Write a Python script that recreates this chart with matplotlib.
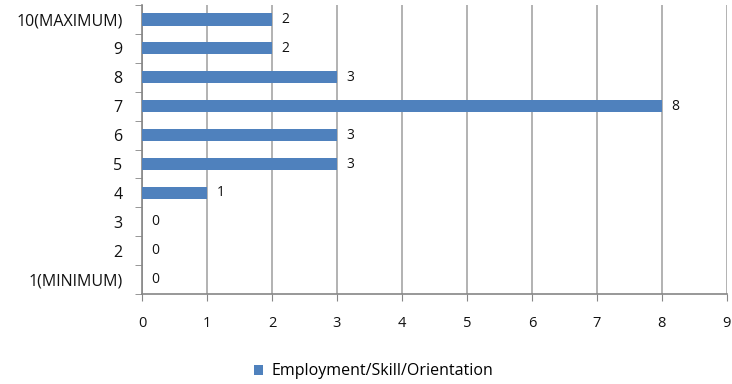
import matplotlib
matplotlib.use("Agg")
import matplotlib.pyplot as plt
import numpy as np

categories = ["1(MINIMUM)", "2", "3", "4", "5", "6", "7", "8", "9", "10(MAXIMUM)"]
values = [0, 0, 0, 1, 3, 3, 8, 3, 2, 2]
series_name = "Employment/Skill/Orientation"
x_ticks = list(range(0, 10))

plt.rcParams['font.family'] = ['Open Sans', 'DejaVu Sans']

fig = plt.figure(figsize=(7.32, 3.84), dpi=100)
ax = fig.add_axes([0.194, 0.234, 0.799, 0.753])

pos = np.arange(len(categories))
bars = ax.barh(pos, values, height=0.42, color="#4F81BD", label=series_name, zorder=3)

for p, v in zip(pos, values):
    ax.annotate(str(v), (v, p), xytext=(7, 0), textcoords="offset points",
                va="center", ha="left", fontsize=10, color="#111111")

ax.set_xlim(0, 9)
ax.set_ylim(-0.5, len(categories) - 0.5)
ax.set_xticks(x_ticks)
ax.set_xticklabels([str(t) for t in x_ticks], fontsize=10.5, color="#111111")
ax.set_yticks(pos)
ax.set_yticklabels(categories, fontsize=11.5, color="#111111")
ax.set_yticks(np.arange(-0.5, len(categories), 1), minor=True)
ax.tick_params(axis="y", which="major", length=0, pad=14)
ax.tick_params(axis="y", which="minor", length=5, color="#868686", direction="out")
ax.tick_params(axis="x", length=5, color="#868686", direction="out", pad=11)

ax.grid(axis="x", color="#A6A6A6", linewidth=1.2, zorder=0)
for s in ["top", "right"]:
    ax.spines[s].set_visible(False)
for s in ["left", "bottom"]:
    ax.spines[s].set_color("#868686")
    ax.spines[s].set_linewidth(1.2)

fig.legend(handles=[bars], labels=[series_name], loc="center", bbox_to_anchor=(0.51, 0.033),
           frameon=False, fontsize=11.5, handlelength=0.6, handleheight=0.6, handletextpad=0.5)

fig.savefig("out.png", dpi=100)
